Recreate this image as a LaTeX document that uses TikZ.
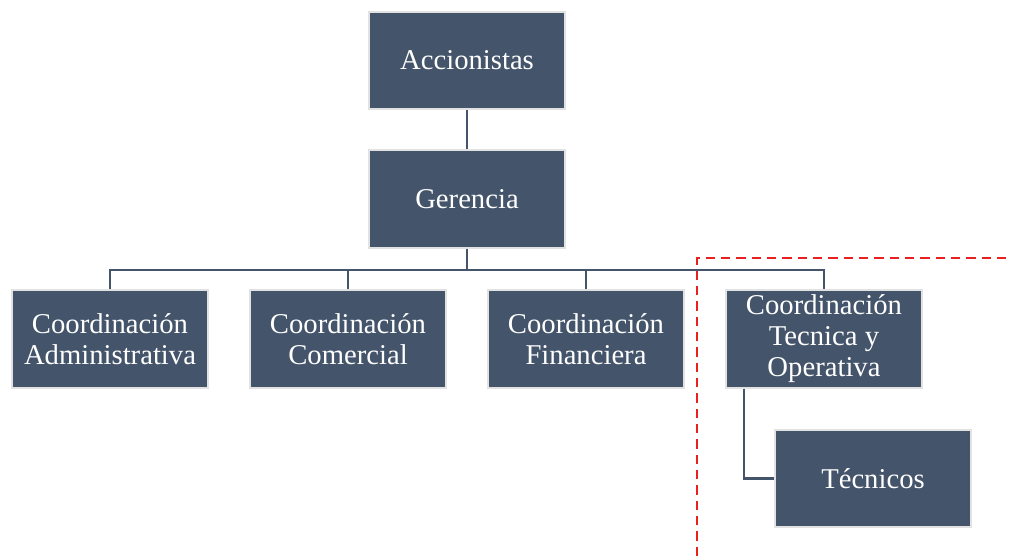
\documentclass[tikz,border=0pt]{standalone}
\usepackage{fontspec}
\setmainfont{Liberation Serif}
\definecolor{boxfill}{HTML}{44546A}
\definecolor{boxedge}{HTML}{E2E2E2}
\definecolor{dashred}{HTML}{E8211F}
\begin{document}
\begin{tikzpicture}[x=0.75pt,y=-0.75pt,
  orgbox/.style={rectangle,fill=boxfill,draw=boxedge,line width=1.5pt,
    minimum width=147pt,minimum height=73pt,inner sep=2pt,text=white,
    align=center,font=\fontsize{21.5}{23.25}\selectfont},
  link/.style={draw=boxfill,line width=2pt},
  border/.style={draw=dashred,line width=2pt,dash pattern=on 7pt off 4.5pt}]
\useasboundingbox (0,0) rectangle (1011,556);
\node[orgbox] (acc) at (467,60.5) {Accionistas};
\node[orgbox] (ger) at (467,199) {Gerencia};
\node[orgbox] (adm) at (110,339) {Coordinación\\Administrativa};
\node[orgbox] (com) at (348,339) {Coordinación\\Comercial};
\node[orgbox] (fin) at (586,339) {Coordinación\\Financiera};
\node[orgbox] (cto) at (824,339) {Coordinación\\Tecnica y\\Operativa};
\node[orgbox] (tec) at (873,478.5) {Técnicos};
\coordinate (bus) at (0,270);
\draw[link] (acc.south) -- (ger.north);
\draw[link] (ger.south) -- (ger.south |- bus);
\draw[link] (adm.north) -- (adm.north |- bus) -| (cto.north);
\draw[link] (com.north) -- (com.north |- bus);
\draw[link] (fin.north) -- (fin.north |- bus);
\draw[link] ([xshift=14.25pt]cto.south west) |- (tec.west);
\coordinate (d1) at (697,556);
\coordinate (d2) at (697,258);
\coordinate (d3) at (1006,258);
\draw[border] (d1) -- (d2) -- (d3);
\end{tikzpicture}
\end{document}
